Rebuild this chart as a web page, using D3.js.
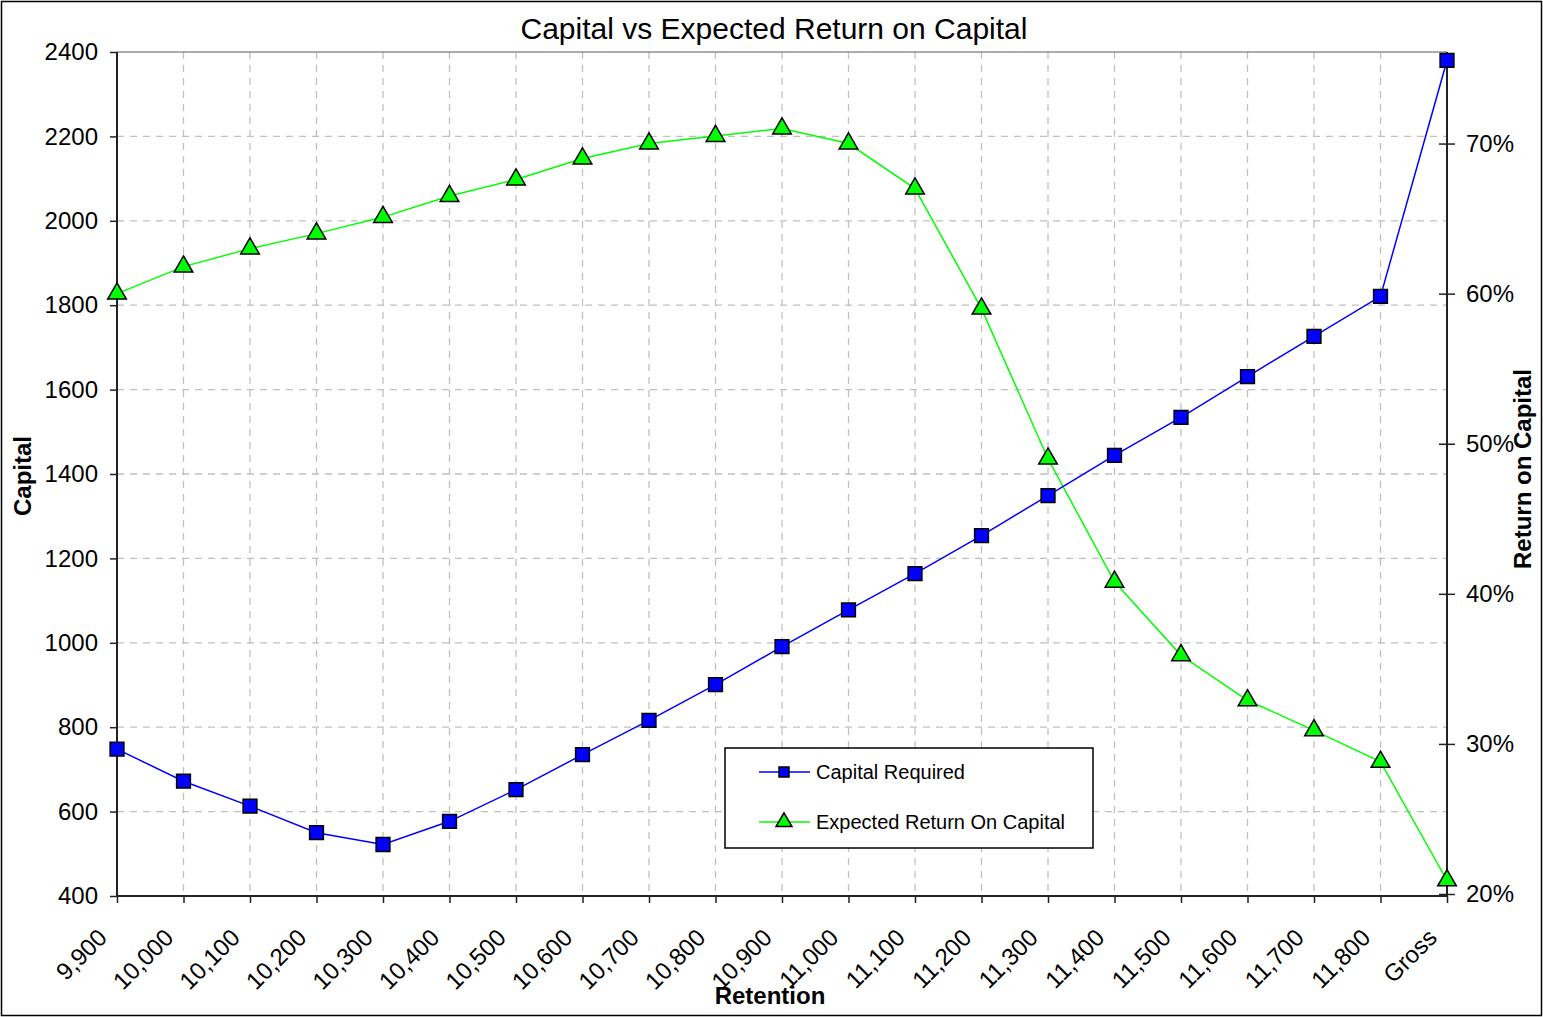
<!DOCTYPE html>
<html><head><meta charset="utf-8">
<script src="https://cdn.jsdelivr.net/npm/d3@7"></script>
<style>body{margin:0;background:#fff;} text{font-family:"Liberation Sans",Arial,sans-serif;}</style>
</head><body>
<svg id="c" width="1543" height="1017"></svg>
<script>
const categories = ["9,900","10,000","10,100","10,200","10,300","10,400","10,500","10,600","10,700","10,800","10,900","11,000","11,100","11,200","11,300","11,400","11,500","11,600","11,700","11,800","Gross"];
const capitalRequired = [748,672,613,550,522,577,652,735,816,901,991,1078,1164,1254,1349,1444,1534,1631,1726,1821,2380];
const expectedReturn = [0.600,0.618,0.630,0.640,0.651,0.665,0.676,0.690,0.700,0.705,0.710,0.700,0.670,0.590,0.490,0.408,0.359,0.329,0.309,0.288,0.209];
const leftTicks = [400,600,800,1000,1200,1400,1600,1800,2000,2200,2400];
const rightTicks = [0.2,0.3,0.4,0.5,0.6,0.7];

const svg = d3.select("#c");
const L=117, R=1447, T=52, B=896;
svg.append("rect").attr("x",1.5).attr("y",1.5).attr("width",1540).attr("height",1014).attr("fill","#fff").attr("stroke","#000").attr("stroke-width",1.5);

const x = d3.scalePoint().domain(categories).range([L,R]);
const yL = d3.scaleLinear().domain([400,2400]).range([B,T]);
const yR = d3.scaleLinear().domain([0.2,0.761]).range([B-2,T]);

// grid
const g = svg.append("g");
g.selectAll(".hg").data(leftTicks.slice(1,-1)).enter().append("line")
 .attr("x1",L).attr("x2",R).attr("y1",d=>yL(d)).attr("y2",d=>yL(d))
 .attr("stroke","#c0c0c0").attr("stroke-dasharray","7,6").attr("stroke-width",1.3);
g.selectAll(".vg").data(categories.slice(1,-1)).enter().append("line")
 .attr("x1",d=>x(d)).attr("x2",d=>x(d)).attr("y1",T).attr("y2",B)
 .attr("stroke","#c0c0c0").attr("stroke-dasharray","7,6").attr("stroke-width",1.3);
g.append("line").attr("x1",L).attr("x2",R).attr("y1",T).attr("y2",T).attr("stroke","#909090").attr("stroke-width",1.5);

// axes
const axL = svg.append("g").attr("transform",`translate(${L},0)`).call(d3.axisLeft(yL).tickValues(leftTicks).tickSize(7).tickPadding(12).tickFormat(d3.format("d")));
const axR = svg.append("g").attr("transform",`translate(${R},0)`).call(d3.axisRight(yR).tickValues(rightTicks).tickSize(8).tickPadding(11).tickFormat(d3.format(".0%")));
axR.selectAll(".tick line").attr("x1",-8);
const axB = svg.append("g").attr("transform",`translate(0,${B})`).call(d3.axisBottom(x).tickSize(7).tickPadding(8));
[axL,axR,axB].forEach(a=>{
  a.select(".domain").attr("stroke","#222").attr("stroke-width",2);
  a.selectAll(".tick line").attr("stroke","#222").attr("stroke-width",1.5);
  a.selectAll("text").attr("font-size",24).attr("fill","#000").attr("font-family","Liberation Sans, Arial, sans-serif");
});
axL.select(".domain").attr("d",`M0,${B}V${T}`);
axR.select(".domain").attr("d",`M0,${B}V${T}`);
axB.select(".domain").attr("d",`M${L},0H${R}`);
axB.selectAll("text").attr("text-anchor","end").attr("x",0).attr("y",0).attr("dy",0)
 .attr("transform","translate(-9,43) rotate(-45)");

// lines
const lineC = d3.line().x((d,i)=>x(categories[i])).y(d=>yL(d));
const lineR = d3.line().x((d,i)=>x(categories[i])).y(d=>yR(d));
svg.append("path").attr("d",lineR(expectedReturn)).attr("fill","none").attr("stroke","#00ff00").attr("stroke-width",1.5);
svg.append("path").attr("d",lineC(capitalRequired)).attr("fill","none").attr("stroke","#0000ff").attr("stroke-width",1.5);

const tri = d3.symbol().type(d3.symbolTriangle).size(150);
const sq = d3.symbol().type(d3.symbolSquare).size(190);
svg.selectAll(".tr").data(expectedReturn).enter().append("path")
 .attr("d",tri).attr("transform",(d,i)=>`translate(${x(categories[i])},${yR(d)})`)
 .attr("fill","#00ff00").attr("stroke","#000").attr("stroke-width",1.5);
svg.selectAll(".sq").data(capitalRequired).enter().append("path")
 .attr("d",sq).attr("transform",(d,i)=>`translate(${x(categories[i])},${yL(d)})`)
 .attr("fill","#0000ff").attr("stroke","#000").attr("stroke-width",1.5);

// titles
svg.append("text").attr("x",774).attr("y",39).attr("text-anchor","middle").attr("font-size",30).text("Capital vs Expected Return on Capital");
svg.append("text").attr("transform","translate(31,476) rotate(-90)").attr("text-anchor","middle").attr("font-size",24).attr("font-weight","bold").text("Capital");
svg.append("text").attr("transform","translate(1531,469) rotate(-90)").attr("text-anchor","middle").attr("font-size",24).attr("font-weight","bold").text("Return on Capital");
svg.append("text").attr("x",770).attr("y",1004).attr("text-anchor","middle").attr("font-size",24).attr("font-weight","bold").text("Retention");

// legend
const lg = svg.append("g");
lg.append("rect").attr("x",725).attr("y",748).attr("width",368).attr("height",100).attr("fill","#fff").attr("stroke","#000").attr("stroke-width",1.5);
const items = [{name:"Capital Required",color:"#0000ff",sym:d3.symbol().type(d3.symbolSquare).size(100),y:772},{name:"Expected Return On Capital",color:"#00ff00",sym:d3.symbol().type(d3.symbolTriangle).size(110),y:822}];
items.forEach(it=>{
  lg.append("line").attr("x1",759).attr("x2",810).attr("y1",it.y).attr("y2",it.y).attr("stroke",it.color).attr("stroke-width",1.5);
  lg.append("path").attr("d",it.sym()).attr("transform",`translate(784,${it.y})`).attr("fill",it.color).attr("stroke","#000").attr("stroke-width",1.5);
  lg.append("text").attr("x",816).attr("y",it.y+7).attr("font-size",20).text(it.name);
});
</script>
</body></html>
